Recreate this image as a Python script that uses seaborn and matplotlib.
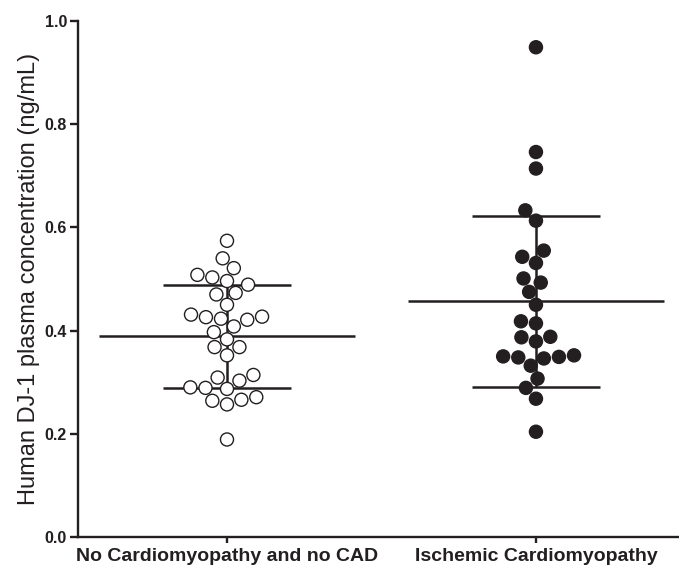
import numpy as np
import pandas as pd
import matplotlib
matplotlib.use("Agg")
import matplotlib.pyplot as plt
import seaborn as sns

# --- values ------------------------------------------------------------------
groups = ["No Cardiomyopathy and no CAD", "Ischemic Cardiomyopathy"]

control_vals = [0.574, 0.540, 0.521, 0.503, 0.508, 0.489, 0.496, 0.470,
                0.473, 0.450, 0.426, 0.421, 0.431, 0.423, 0.427, 0.408,
                0.397, 0.383, 0.368, 0.368, 0.352, 0.309, 0.314, 0.303,
                0.289, 0.290, 0.287, 0.271, 0.264, 0.257, 0.266, 0.189]

icm_vals = [0.949, 0.746, 0.714, 0.633, 0.613, 0.555, 0.543, 0.531,
            0.501, 0.493, 0.475, 0.450, 0.414, 0.418, 0.379, 0.387,
            0.388, 0.350, 0.348, 0.346, 0.332, 0.349, 0.352, 0.307,
            0.289, 0.268, 0.204]

# mean +/- SD as drawn in the figure
mean_vals = [0.389, 0.457]
sd_vals = [0.0995, 0.166]

y_ticks = [0.0, 0.2, 0.4, 0.6, 0.8, 1.0]
y_label = "Human DJ-1 plasma concentration (ng/mL)"

ink = "#231f20"

df = pd.DataFrame({
    "group": [groups[0]] * len(control_vals) + [groups[1]] * len(icm_vals),
    "value": control_vals + icm_vals,
})

# --- style ---------------------------------------------------------------------
sns.set_style("ticks")
plt.rcParams["font.family"] = ["Liberation Sans", "DejaVu Sans"]

fig = plt.figure(figsize=(6.79, 5.69), dpi=100)
ax = fig.add_axes([0.115, 0.0562, 0.885, 0.907])

# points (open circles for controls, filled for ICM)
sns.swarmplot(data=df, x="group", y="value", hue="group",
              order=groups, hue_order=groups, palette=["white", ink],
              edgecolor=ink, linewidth=1.0, size=9.4, legend=False,
              ax=ax, zorder=3)

# mean line + SD whiskers
pos = np.arange(len(groups))
means = np.array(mean_vals)
sds = np.array(sd_vals)
ax.hlines(means, pos - 0.414, pos + 0.414, color=ink, lw=1.8, zorder=2)
ax.hlines(means + sds, pos - 0.206, pos + 0.206, color=ink, lw=1.8, zorder=2)
ax.hlines(means - sds, pos - 0.206, pos + 0.206, color=ink, lw=1.8, zorder=2)
ax.vlines(pos, means - sds, means + sds, color=ink, lw=1.8, zorder=2)

ax.set_xlim(-0.482, 1.463)
ax.set_ylim(0, 1.0)

ax.set_yticks(y_ticks)
ax.set_yticklabels([f"{t:.1f}" for t in y_ticks], fontsize=11.5,
                   fontweight="bold", color=ink)
ax.set_xticks(pos)
ax.set_xticklabels(groups, fontsize=14, fontweight="bold", color=ink)
ax.tick_params(axis="y", length=6, width=1.7, color=ink, pad=2)
ax.tick_params(axis="x", length=4, width=1.7, color=ink, pad=4)

ax.set_xlabel("")
ax.set_ylabel(y_label, fontsize=17, color=ink, labelpad=3)

sns.despine(ax=ax)
for side in ["left", "bottom"]:
    ax.spines[side].set_linewidth(1.7)
    ax.spines[side].set_color(ink)

fig.savefig("out.png", dpi=100)
